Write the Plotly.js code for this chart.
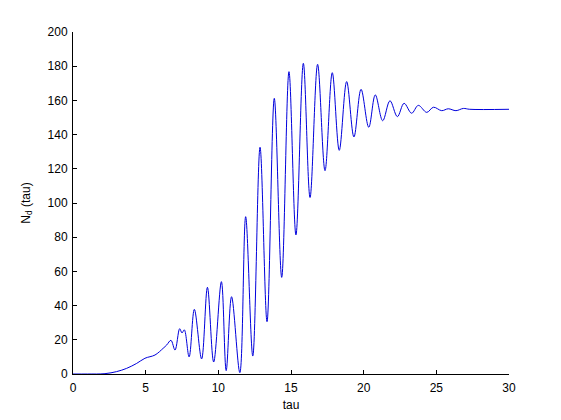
<!DOCTYPE html>
<html>
<head>
<meta charset="utf-8">
<script src="https://cdn.plot.ly/plotly-3.0.1.min.js"></script>
<style>html,body{margin:0;padding:0;background:#fff;}#chart{width:561px;height:420px;}</style>
</head>
<body>
<div id="chart"></div>
<script>
// tau values (x)
const tau = [0, 1, 2.2, 3.0, 3.69, 4.38, 4.95, 5.64, 6.2, 6.45, 6.74, 7.02, 7.34, 7.5, 7.66, 7.99,
  8.35, 8.85, 9.25, 9.68, 10.21, 10.54, 10.91, 11.48, 11.88, 12.37, 12.87, 13.35, 13.85, 14.36,
  14.86, 15.34, 15.85, 16.31, 16.83, 17.34, 17.84, 18.32, 18.83, 19.33, 19.82, 20.35, 20.8, 21.31,
  21.81, 22.32, 22.78, 23.3, 23.76, 24.34, 24.8, 25.37, 25.82, 26.35, 26.86, 27.3, 30];
// N_d(tau) values (y)
const Nd = [0, 0, 0.2, 1.4, 3.3, 6.2, 9.2, 11.1, 15, 17, 19.7, 14, 26.5, 24, 25.8, 10,
  37.8, 8.8, 50.7, 7, 54, 2, 45.2, 0.8, 92, 10.5, 132.6, 30.6, 161.2, 56.5,
  176.8, 81.3, 181.7, 103.2, 181.1, 118.9, 176.2, 130.8, 171, 138.6, 166.5, 144.3, 163.2, 148.1,
  159.8, 150.5, 158.3, 152.5, 157.1, 153, 156, 154, 155.1, 154, 155.3, 154.8, 154.8];
const xTicks = [0, 5, 10, 15, 20, 25, 30];
const yTicks = [0, 20, 40, 60, 80, 100, 120, 140, 160, 180, 200];

const font = {family: 'Liberation Sans, Arial, sans-serif', size: 12, color: '#000'};
Plotly.newPlot('chart', [{
  x: tau, y: Nd, type: 'scatter', mode: 'lines',
  line: {color: 'rgb(0,0,220)', width: 1, shape: 'spline', smoothing: 1}
}], {
  width: 561, height: 420,
  margin: {l: 73, r: 52, t: 32, b: 46},
  paper_bgcolor: '#fff', plot_bgcolor: '#fff',
  showlegend: false,
  font: font,
  xaxis: {range: [0, 30], tickvals: xTicks, ticktext: xTicks.map(String), showgrid: false, zeroline: false,
    showline: true, linecolor: '#000', linewidth: 1, ticks: 'inside', ticklen: 4, tickcolor: '#000',
    ticklabelstandoff: 3,
    tickfont: font, title: {text: 'tau', font: font, standoff: 6}},
  yaxis: {range: [0, 200], tickvals: yTicks, ticktext: yTicks.map(String), showgrid: false, zeroline: false,
    showline: true, linecolor: '#000', linewidth: 1, ticks: 'inside', ticklen: 4, tickcolor: '#000',
    ticklabelstandoff: 2,
    tickfont: font, title: {text: 'N<sub>d</sub> (tau)', font: font, standoff: 14}}
}, {staticPlot: true, displayModeBar: false});
</script>
</body>
</html>
